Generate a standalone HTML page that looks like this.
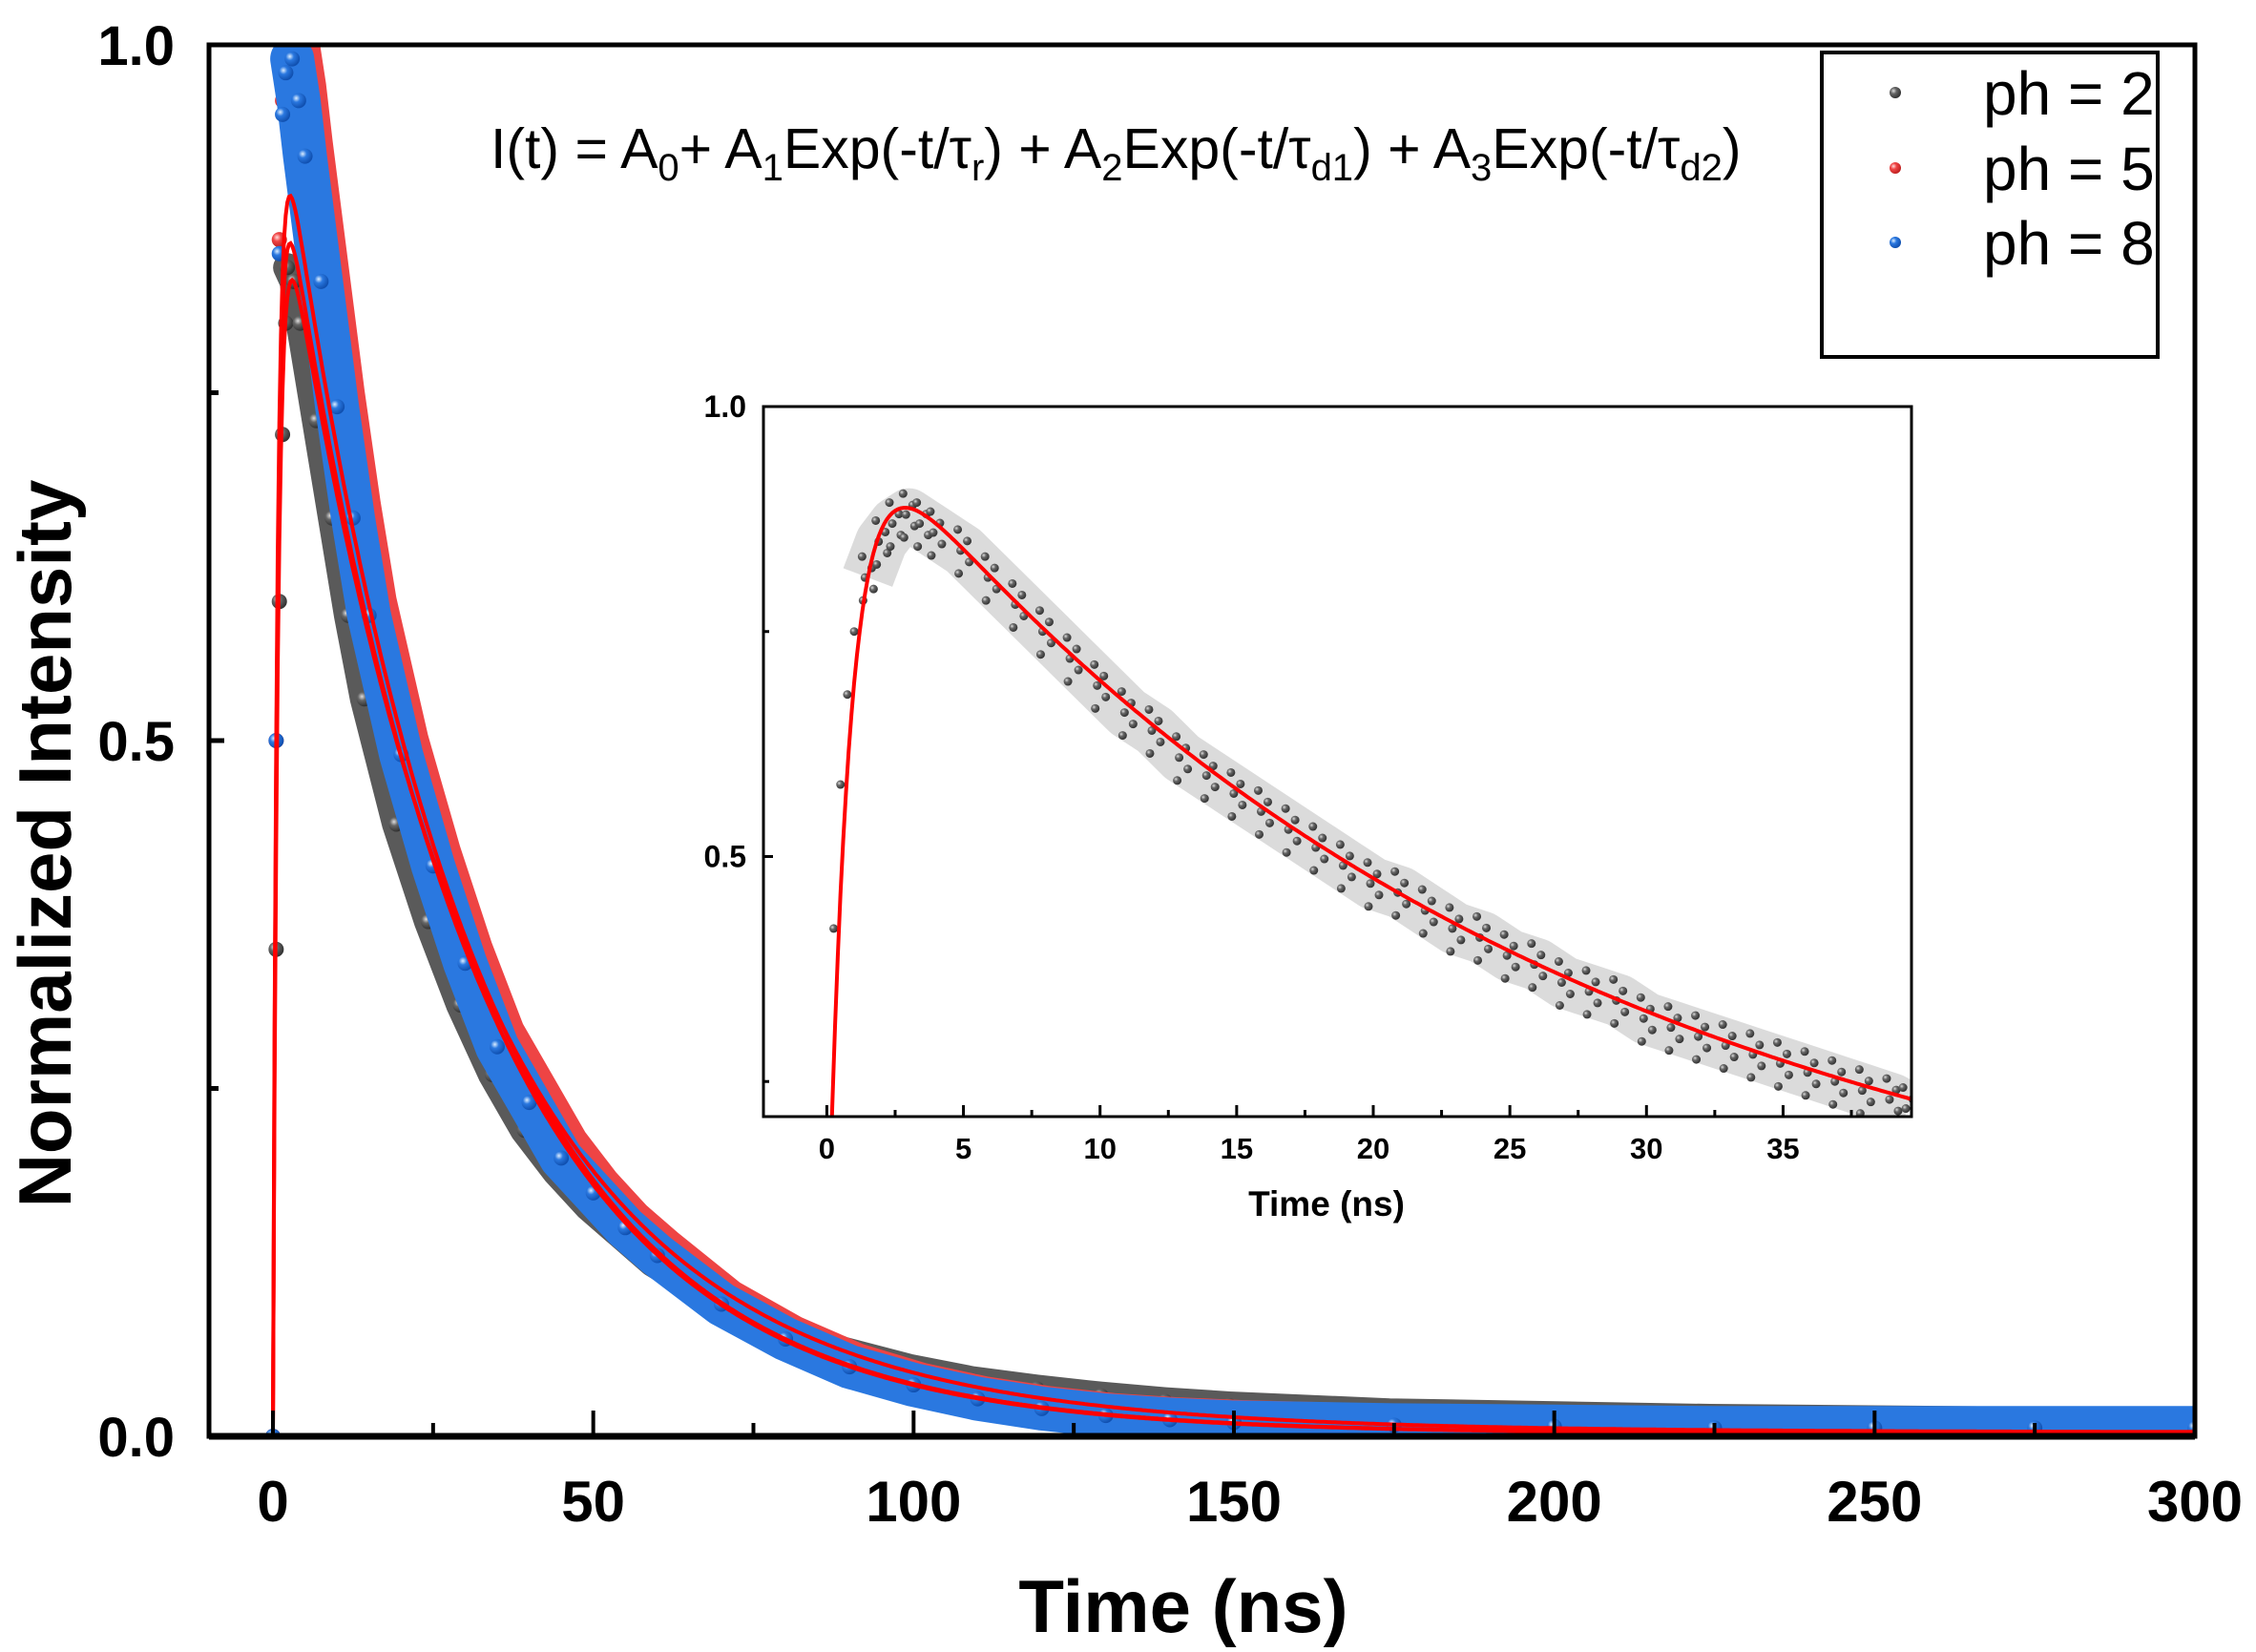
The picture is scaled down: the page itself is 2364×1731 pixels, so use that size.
<!DOCTYPE html>
<html><head><meta charset="utf-8"><style>
html,body{margin:0;padding:0;background:#fff}
svg{display:block;font-family:"Liberation Sans",Arial,sans-serif}
</style></head><body>
<svg id="chart" width="2364" height="1731" viewBox="0 0 2364 1731">
<defs>
<radialGradient id="gGray" cx="35%" cy="35%" r="65%"><stop offset="0" stop-color="#ddd"/><stop offset="0.4" stop-color="#666"/><stop offset="1" stop-color="#333"/></radialGradient>
<radialGradient id="gRed" cx="35%" cy="35%" r="65%"><stop offset="0" stop-color="#fdd"/><stop offset="0.4" stop-color="#f04545"/><stop offset="1" stop-color="#c02020"/></radialGradient>
<radialGradient id="gBlue" cx="35%" cy="35%" r="65%"><stop offset="0" stop-color="#def"/><stop offset="0.4" stop-color="#2a78e0"/><stop offset="1" stop-color="#1050b0"/></radialGradient>
</defs>
<g id="main-data"></g>
<g id="inset-data"></g>
<g id="axes"></g>
<text x="514" y="176" font-size="59">I(t) = A<tspan font-size="40" dy="13">0</tspan><tspan dy="-13">+ A</tspan><tspan font-size="40" dy="13">1</tspan><tspan dy="-13">Exp(-t/τ</tspan><tspan font-size="40" dy="13">r</tspan><tspan dy="-13">) + A</tspan><tspan font-size="40" dy="13">2</tspan><tspan dy="-13">Exp(-t/τ</tspan><tspan font-size="40" dy="13">d1</tspan><tspan dy="-13">) + A</tspan><tspan font-size="40" dy="13">3</tspan><tspan dy="-13">Exp(-t/τ</tspan><tspan font-size="40" dy="13">d2</tspan><tspan dy="-13">)</tspan></text>
<g>
<rect x="1909" y="55" width="352" height="319" fill="#fff" stroke="#000" stroke-width="4"/>
<g><circle cx="1986" cy="97" r="6" fill="url(#gGray)"/><text x="2078" y="120" font-size="64">ph = 2</text></g>
<g><circle cx="1986" cy="176" r="6" fill="url(#gRed)"/><text x="2078" y="199" font-size="64">ph = 5</text></g>
<g><circle cx="1986" cy="254" r="6" fill="url(#gBlue)"/><text x="2078" y="277" font-size="64">ph = 8</text></g>
</g>
<text x="1240" y="1710" font-size="78" font-weight="bold" text-anchor="middle">Time (ns)</text>
<text transform="translate(74,884) rotate(-90)" font-size="78" font-weight="bold" text-anchor="middle">Normalized Intensity</text>
<text x="1390" y="1274" font-size="37" font-weight="bold" text-anchor="middle">Time (ns)</text>
</svg>
<script>
const times=[0,0.5,1,1.5,2,3,4,5,7.5,10,12.5,15,20,25,30,35,40,45,50,55,60,70,80,90,100,110,120,130,140,150,175,200,225,250,275,300];
const ph2=[0,0.35,0.6,0.72,0.8,0.84,0.83,0.8,0.73,0.66,0.59,0.53,0.44,0.37,0.31,0.26,0.22,0.19,0.165,0.145,0.125,0.097,0.077,0.061,0.049,0.04,0.034,0.029,0.025,0.022,0.017,0.015,0.013,0.012,0.011,0.01];
const ph5=[0,0.5,0.86,0.96,0.99,1.0,0.97,0.93,0.84,0.75,0.67,0.6,0.5,0.42,0.35,0.29,0.25,0.21,0.18,0.155,0.135,0.098,0.072,0.052,0.038,0.028,0.021,0.016,0.013,0.011,0.008,0.007,0.006,0.006,0.006,0.006];
const ph8=[0,0.5,0.85,0.95,0.98,0.99,0.96,0.92,0.83,0.74,0.66,0.59,0.49,0.41,0.34,0.28,0.24,0.2,0.175,0.15,0.13,0.095,0.07,0.05,0.037,0.027,0.02,0.015,0.012,0.01,0.008,0.007,0.006,0.006,0.006,0.006];
// fit params: [A0, tr, A2, td1, A3, td2]
const fitPh2=[0.003,0.8,0.54,25,0.4,40];
const fitPh5=[0.002,0.7,0.65,26,0.35,36];
const fitPh8=[0.002,0.7,0.62,27,0.34,35];
const fitInset=[0.004,0.8,0.62,22,0.4,34];
const insetTimes=[0,0.25,0.5,0.75,1,1.5,2,2.5,3,3.5,4,5,6,7,8,9,10,11,12,13,14,15,16,17,18,19,20,21,22,23,24,25,26,27,28,29,30,31,32,33,34,35,36,37,38,39,39.6];
const insetVals=[0.2,0.42,0.58,0.68,0.75,0.81,0.85,0.87,0.88,0.87,0.86,0.84,0.81,0.78,0.75,0.72,0.69,0.66,0.64,0.61,0.59,0.57,0.55,0.53,0.51,0.49,0.47,0.46,0.44,0.42,0.41,0.39,0.38,0.36,0.35,0.34,0.32,0.31,0.3,0.29,0.28,0.27,0.26,0.25,0.24,0.23,0.22];
const xTicks=[0,50,100,150,200,250,300];
const yTicks=[0,0.5,1.0];
const yTickLabels=["0.0","0.5","1.0"];
const insetXTicks=[0,5,10,15,20,25,30,35];
const insetYTicks=[0.5,1.0];
const insetYTickLabels=["0.5","1.0"];

const NS="http://www.w3.org/2000/svg";
function mk(tag,attrs,parent){const e=document.createElementNS(NS,tag);for(const k in attrs)e.setAttribute(k,attrs[k]);parent.appendChild(e);return e;}
const L=219,R=2300,T=47,B=1505;
const X0=286,X300=2300;
const sx=t=>X0+(X300-X0)*t/300;
const sy=v=>B-(B-T)*v;
const iL=800,iR=2003,iT=426,iB=1170;
const ix=t=>iL+(t+2.32)*(iR-iL)/(39.7+2.32);
const iy=v=>iT+(1-v)*(iB-iT)/(1-0.211);
function fitVal(p,t){const A0=p[0],tr=p[1],A2=p[2],td1=p[3],A3=p[4],td2=p[5];return A0+(A2*Math.exp(-t/td1)+A3*Math.exp(-t/td2))-(A2+A3)*Math.exp(-t/tr);}

const md=document.getElementById('main-data');
const clip=mk('clipPath',{id:'mclip'},md);mk('rect',{x:L,y:T,width:R-L,height:B-T},clip);
const mg=mk('g',{'clip-path':'url(#mclip)'},md);
const series=[[ph2,'#5a5a5a','url(#gGray)','ph2',-5,30],[ph5,'#ee4444','url(#gRed)','ph5',7,44],[ph8,'#2a78e0','url(#gBlue)','ph8',0,46]];
series.forEach(s=>{
  const pts=times.map((t,i)=>[t,s[0][i]]).filter(p=>p[0]>=3).map(p=>(sx(p[0])+s[4])+','+sy(p[1])).join(' ');
  const band=mk('polyline',{points:pts,fill:'none',stroke:s[1],'stroke-width':s[5],'stroke-linejoin':'round','stroke-linecap':'round'},mg);
  
  
  times.forEach((t,i)=>{
    const c=mk('circle',{cx:sx(t)+(t<3?0:s[4]),cy:sy(s[0][i]),r:8,fill:s[2]},mg);
    
    
  });
});
[fitPh2,fitPh5,fitPh8].forEach((p,k)=>{
  let d='';for(let t=0;t<=300;t+=0.25){d+=(t?'L':'M')+sx(t).toFixed(1)+','+sy(fitVal(p,t)).toFixed(1);}
  const f=mk('path',{d:d,fill:'none',stroke:'#ff0000','stroke-width':4},mg);
  
  
});

const idd=document.getElementById('inset-data');
mk('rect',{x:iL,y:iT,width:iR-iL,height:iB-iT,fill:'#fff'},idd);
const ic=mk('clipPath',{id:'iclip'},idd);mk('rect',{x:iL,y:iT,width:iR-iL,height:iB-iT},ic);
const ig=mk('g',{'clip-path':'url(#iclip)'},idd);
const ipts=insetTimes.map((t,i)=>[t,insetVals[i]]).filter(p=>p[0]>=1.5).map(p=>ix(p[0])+','+iy(p[1])).join(' ');
const ib=mk('polyline',{points:ipts,fill:'none',stroke:'#888','stroke-width':55,'stroke-opacity':0.3,'stroke-linejoin':'round'},ig);


insetTimes.forEach((t,i)=>{
  const offs=t<1.5?[[0,0]]:[[-6,-22],[4,-10],[-3,0],[6,12],[-5,24]];
  offs.forEach(o=>{
    const c=mk('circle',{cx:ix(t)+o[0],cy:iy(insetVals[i])+o[1],r:4.5,fill:'url(#gGray)'},ig);
    
    
  });
});
let idp='';for(let t=0.1;t<=40;t+=0.1){idp+=(idp?'L':'M')+ix(t).toFixed(1)+','+iy(fitVal(fitInset,t)).toFixed(1);}
const ifit=mk('path',{d:idp,fill:'none',stroke:'#ff0000','stroke-width':4},ig);



const ax=document.getElementById('axes');
const frame=mk('rect',{x:L,y:T,width:R-L,height:B-T,fill:'none',stroke:'#000','stroke-width':5},ax);


mk('line',{x1:L,y1:B,x2:R,y2:B,stroke:'#000','stroke-width':7},ax);
xTicks.forEach(t=>{
  mk('line',{x1:sx(t),y1:B,x2:sx(t),y2:B-27,stroke:'#000','stroke-width':4},ax);
  if(t<300)mk('line',{x1:sx(t+25),y1:B,x2:sx(t+25),y2:B-14,stroke:'#000','stroke-width':4},ax);
  const tx=mk('text',{x:sx(t),y:1594,'font-size':60,'font-weight':'bold','text-anchor':'middle'},ax);
  tx.textContent=t;
  
  
});
yTicks.forEach((v,i)=>{
  mk('line',{x1:L,y1:sy(v),x2:L+16,y2:sy(v),stroke:'#000','stroke-width':5},ax);
  if(v<1)mk('line',{x1:L,y1:sy(v+0.25),x2:L+10,y2:sy(v+0.25),stroke:'#000','stroke-width':5},ax);
  const tx=mk('text',{x:183,y:sy(v)+21,'font-size':58,'font-weight':'bold','text-anchor':'end'},ax);
  tx.textContent=yTickLabels[i];
  
  
});
const ifr=mk('rect',{x:iL,y:iT,width:iR-iL,height:iB-iT,fill:'none',stroke:'#000','stroke-width':3},ax);


insetXTicks.forEach(t=>{
  mk('line',{x1:ix(t),y1:iB,x2:ix(t),y2:iB-12,stroke:'#000','stroke-width':3},ax);
  mk('line',{x1:ix(t+2.5),y1:iB,x2:ix(t+2.5),y2:iB-7,stroke:'#000','stroke-width':3},ax);
  const tx=mk('text',{x:ix(t),y:1214,'font-size':31,'font-weight':'bold','text-anchor':'middle'},ax);
  tx.textContent=t;
  
  
});
insetYTicks.forEach((v,i)=>{
  mk('line',{x1:iL,y1:iy(v),x2:iL+10,y2:iy(v),stroke:'#000','stroke-width':3},ax);
  mk('line',{x1:iL,y1:iy(v-0.25),x2:iL+6,y2:iy(v-0.25),stroke:'#000','stroke-width':3},ax);
  const tx=mk('text',{x:iL-18,y:iy(v)+11,'font-size':32,'font-weight':'bold','text-anchor':'end'},ax);
  tx.textContent=insetYTickLabels[i];
  
  
});
</script>
</body></html>
